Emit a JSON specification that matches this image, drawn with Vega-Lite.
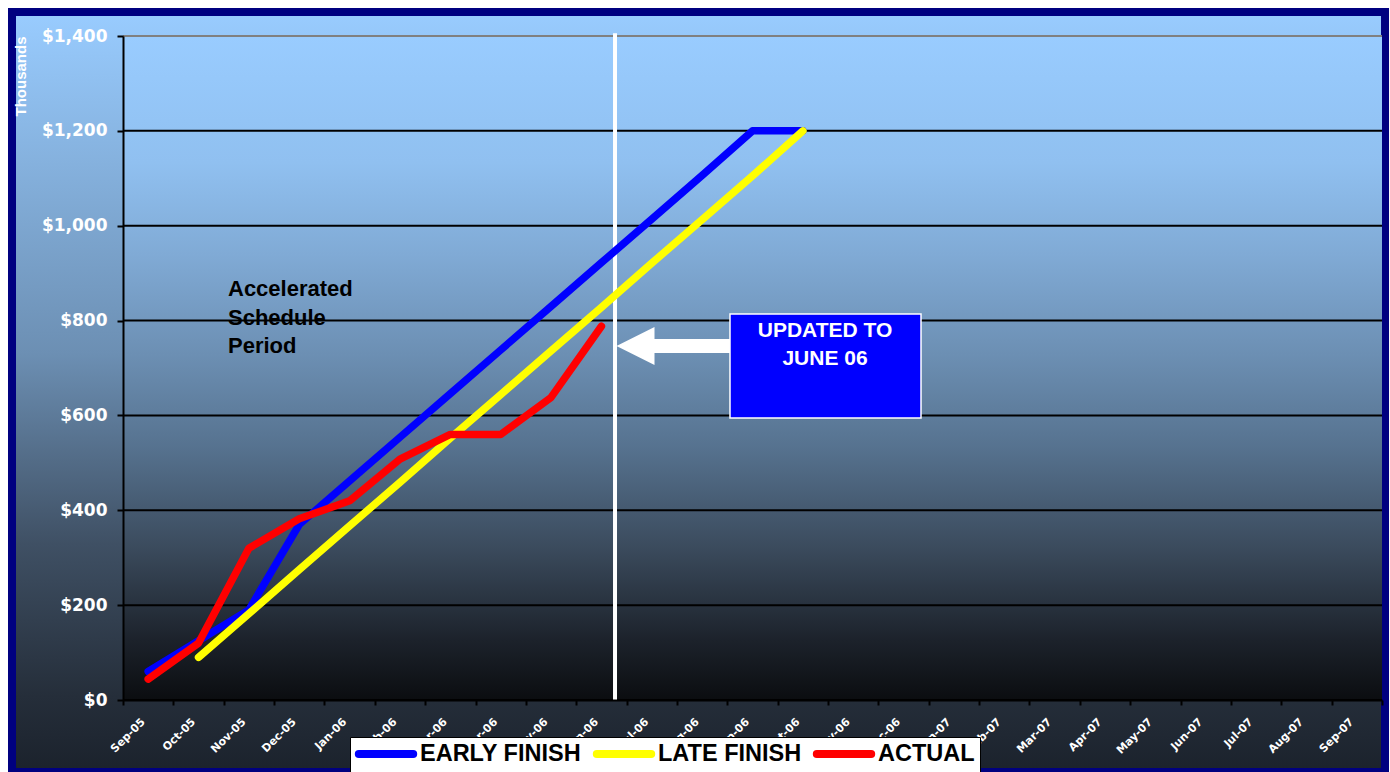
{
  "$schema": "https://vega.github.io/schema/vega-lite/v6.json",
  "width": 1259,
  "height": 664,
  "autosize": {"type": "none"},
  "padding": {"left": 123, "top": 36, "right": 8, "bottom": 72},
  "background": "white",
  "config": {"view": {"stroke": null}},
  "datasets": {
    "series": [
      {"month": "Sep-05", "idx": 0, "series": "EARLY FINISH", "value": 60},
      {"month": "Oct-05", "idx": 1, "series": "EARLY FINISH", "value": 125},
      {"month": "Nov-05", "idx": 2, "series": "EARLY FINISH", "value": 190},
      {"month": "Dec-05", "idx": 3, "series": "EARLY FINISH", "value": 370},
      {"month": "Jan-06", "idx": 4, "series": "EARLY FINISH", "value": 462},
      {"month": "Feb-06", "idx": 5, "series": "EARLY FINISH", "value": 554},
      {"month": "Mar-06", "idx": 6, "series": "EARLY FINISH", "value": 646},
      {"month": "Apr-06", "idx": 7, "series": "EARLY FINISH", "value": 738},
      {"month": "May-06", "idx": 8, "series": "EARLY FINISH", "value": 830},
      {"month": "Jun-06", "idx": 9, "series": "EARLY FINISH", "value": 922},
      {"month": "Jul-06", "idx": 10, "series": "EARLY FINISH", "value": 1014},
      {"month": "Aug-06", "idx": 11, "series": "EARLY FINISH", "value": 1106},
      {"month": "Sep-06", "idx": 12, "series": "EARLY FINISH", "value": 1200},
      {"month": "Oct-06", "idx": 13, "series": "EARLY FINISH", "value": 1200},
      {"month": "Oct-05", "idx": 1, "series": "LATE FINISH", "value": 90},
      {"month": "Nov-05", "idx": 2, "series": "LATE FINISH", "value": 182},
      {"month": "Dec-05", "idx": 3, "series": "LATE FINISH", "value": 275},
      {"month": "Jan-06", "idx": 4, "series": "LATE FINISH", "value": 367},
      {"month": "Feb-06", "idx": 5, "series": "LATE FINISH", "value": 459},
      {"month": "Mar-06", "idx": 6, "series": "LATE FINISH", "value": 552},
      {"month": "Apr-06", "idx": 7, "series": "LATE FINISH", "value": 644},
      {"month": "May-06", "idx": 8, "series": "LATE FINISH", "value": 736},
      {"month": "Jun-06", "idx": 9, "series": "LATE FINISH", "value": 828},
      {"month": "Jul-06", "idx": 10, "series": "LATE FINISH", "value": 921},
      {"month": "Aug-06", "idx": 11, "series": "LATE FINISH", "value": 1013},
      {"month": "Sep-06", "idx": 12, "series": "LATE FINISH", "value": 1105},
      {"month": "Oct-06", "idx": 13, "series": "LATE FINISH", "value": 1200},
      {"month": "Sep-05", "idx": 0, "series": "ACTUAL", "value": 44},
      {"month": "Oct-05", "idx": 1, "series": "ACTUAL", "value": 120},
      {"month": "Nov-05", "idx": 2, "series": "ACTUAL", "value": 320},
      {"month": "Dec-05", "idx": 3, "series": "ACTUAL", "value": 382},
      {"month": "Jan-06", "idx": 4, "series": "ACTUAL", "value": 420},
      {"month": "Feb-06", "idx": 5, "series": "ACTUAL", "value": 508},
      {"month": "Mar-06", "idx": 6, "series": "ACTUAL", "value": 560},
      {"month": "Apr-06", "idx": 7, "series": "ACTUAL", "value": 560},
      {"month": "May-06", "idx": 8, "series": "ACTUAL", "value": 638},
      {"month": "Jun-06", "idx": 9, "series": "ACTUAL", "value": 788}
    ],
    "grid": [{"v": 0}, {"v": 200}, {"v": 400}, {"v": 600}, {"v": 800}, {"v": 1000}, {"v": 1200}, {"v": 1400}]
  },
  "layer": [
    {
      "data": {"values": [{}]},
      "mark": {
        "type": "rect",
        "stroke": "#000080",
        "strokeWidth": 8,
        "fill": {"gradient": "linear", "x1": 0, "y1": 0, "x2": 0, "y2": 1,
          "stops": [
            {"offset": 0, "color": "#99ccff"},
            {"offset": 0.45, "color": "#6c8fb3"},
            {"offset": 0.7, "color": "#3f5064"},
            {"offset": 0.9, "color": "#252e3a"},
            {"offset": 1, "color": "#1b222c"}
          ]}
      },
      "encoding": {
        "x": {"datum": -2.704, "type": "quantitative", "scale": {"domain": [-0.5, 24.5], "nice": false, "zero": false}},
        "x2": {"datum": 24.56},
        "y": {"datum": -151.8, "type": "quantitative", "scale": {"domain": [0, 1400], "nice": false, "zero": true}},
        "y2": {"datum": 1450.6}
      }
    },
    {
      "data": {"values": [{}]},
      "mark": {
        "type": "rect",
        "fill": {"gradient": "linear", "x1": 0, "y1": 0, "x2": 0, "y2": 1,
          "stops": [
            {"offset": 0, "color": "#99ccff"},
            {"offset": 0.19, "color": "#90c0f0"},
            {"offset": 0.33, "color": "#80aad5"},
            {"offset": 0.48, "color": "#6c8fb3"},
            {"offset": 0.62, "color": "#56728f"},
            {"offset": 0.77, "color": "#3b4b5d"},
            {"offset": 0.91, "color": "#1c222b"},
            {"offset": 1, "color": "#0b0d10"}
          ]}
      },
      "encoding": {
        "x": {"datum": -0.5, "type": "quantitative"},
        "x2": {"datum": 24.5},
        "y": {"datum": 0, "type": "quantitative"},
        "y2": {"datum": 1400}
      }
    },
    {
      "data": {"name": "grid"},
      "mark": {"type": "rule", "strokeWidth": 2},
      "encoding": {
        "y": {"field": "v", "type": "quantitative",
          "axis": {
            "values": [0, 200, 400, 600, 800, 1000, 1200, 1400],
            "format": "$,d", "zindex": 1,
            "labelColor": "white", "labelFont": "DejaVu Sans", "labelFontSize": 17, "labelFontWeight": "bold",
            "labelPadding": 10, "tickSize": 6, "tickColor": "black", "tickWidth": 2,
            "domainColor": "black", "domainWidth": 2, "grid": false,
            "title": "Thousands", "titleColor": "white", "titleFont": "Liberation Sans",
            "titleFontSize": 15, "titleFontWeight": "bold", "titleAnchor": "end", "titlePadding": 13
          }},
        "color": {"condition": {"test": "datum.v === 1400", "value": "#808080"}, "value": "black"}
      }
    },
    {
      "data": {"values": [{}]},
      "mark": {"type": "rule", "color": "white", "strokeWidth": 4},
      "encoding": {
        "x": {"datum": 9.27, "type": "quantitative"},
        "y": {"datum": 0, "type": "quantitative"},
        "y2": {"datum": 1406}
      }
    },
    {
      "data": {"name": "series"},
      "mark": {"type": "line", "strokeWidth": 7.5, "strokeCap": "round", "strokeJoin": "round"},
      "encoding": {
        "x": {"field": "idx", "type": "quantitative",
          "scale": {"domain": [-0.5, 24.5], "nice": false, "zero": false},
          "axis": {
            "values": [-0.5, 0.5, 1.5, 2.5, 3.5, 4.5, 5.5, 6.5, 7.5, 8.5, 9.5, 10.5, 11.5, 12.5, 13.5, 14.5, 15.5, 16.5, 17.5, 18.5, 19.5, 20.5, 21.5, 22.5, 23.5, 24.5],
            "labelExpr": "['Sep-05','Oct-05','Nov-05','Dec-05','Jan-06','Feb-06','Mar-06','Apr-06','May-06','Jun-06','Jul-06','Aug-06','Sep-06','Oct-06','Nov-06','Dec-06','Jan-07','Feb-07','Mar-07','Apr-07','May-07','Jun-07','Jul-07','Aug-07','Sep-07'][datum.value + 0.5] || ''",
            "labelAngle": -45, "labelAlign": "right", "labelBaseline": "middle", "zindex": 1,
            "labelOffset": 20, "labelPadding": 15, "labelColor": "white",
            "labelFont": "DejaVu Sans", "labelFontSize": 11, "labelFontWeight": "bold",
            "labelOverlap": false, "labelFlush": false, "labelBound": false,
            "tickSize": 5, "tickColor": "black", "tickWidth": 2,
            "domainColor": "black", "domainWidth": 2, "grid": false, "title": null
          }},
        "y": {"field": "value", "type": "quantitative",
          "scale": {"domain": [0, 1400], "nice": false, "zero": true},
          "axis": {
            "values": [0, 200, 400, 600, 800, 1000, 1200, 1400],
            "format": "$,d", "zindex": 1,
            "labelColor": "white", "labelFont": "DejaVu Sans", "labelFontSize": 17, "labelFontWeight": "bold",
            "labelPadding": 10, "tickSize": 6, "tickColor": "black", "tickWidth": 2,
            "domainColor": "black", "domainWidth": 2, "grid": false,
            "title": "Thousands", "titleColor": "white", "titleFont": "Liberation Sans",
            "titleFontSize": 15, "titleFontWeight": "bold", "titleAnchor": "end", "titlePadding": 13
          }},
        "color": {
          "field": "series", "type": "nominal",
          "scale": {"domain": ["EARLY FINISH", "LATE FINISH", "ACTUAL"], "range": ["#0000ff", "#ffff00", "#ff0000"]},
          "legend": {
            "title": null, "orient": "none", "legendX": 227, "legendY": 701,
            "direction": "horizontal", "fillColor": "white", "strokeColor": "black",
            "padding": 5, "symbolType": "M-3.4,0L3.4,0", "symbolSize": 256,
            "symbolStrokeWidth": 8, "symbolOffset": 19, "labelOffset": 22,
            "labelFont": "Liberation Sans", "labelFontWeight": "bold", "labelFontSize": 23.5,
            "labelColor": "black", "columnPadding": -2, "labelLimit": 400, "zindex": 2,
            "encode": {"symbols": {"update": {"strokeCap": {"value": "round"}}}}
          }
        }
      }
    },
    {
      "data": {"values": [{}]},
      "mark": {"type": "rule", "color": "white", "strokeWidth": 14},
      "encoding": {
        "x": {"datum": 9.965, "type": "quantitative"},
        "x2": {"datum": 11.553},
        "y": {"datum": 746.4, "type": "quantitative"}
      }
    },
    {
      "data": {"values": [{}]},
      "mark": {"type": "point", "shape": "M-1,0L1,-1L1,1Z", "size": 1444, "filled": true, "color": "white", "opacity": 1, "strokeWidth": 0},
      "encoding": {
        "x": {"datum": 9.677, "type": "quantitative"},
        "y": {"datum": 746.4, "type": "quantitative"}
      }
    },
    {
      "data": {"values": [{}]},
      "mark": {"type": "rect", "fill": "#0000ff", "stroke": "white", "strokeWidth": 1.5},
      "encoding": {
        "x": {"datum": 11.553, "type": "quantitative"},
        "x2": {"datum": 15.346},
        "y": {"datum": 594.6, "type": "quantitative"},
        "y2": {"datum": 813.9}
      }
    },
    {
      "data": {"values": [{}]},
      "mark": {"type": "text", "text": ["UPDATED TO", "JUNE 06"], "font": "Liberation Sans", "fontWeight": "bold", "fontSize": 21, "color": "white", "align": "center", "baseline": "alphabetic", "lineHeight": 28},
      "encoding": {
        "x": {"datum": 13.44, "type": "quantitative"},
        "y": {"datum": 765.4, "type": "quantitative"}
      }
    },
    {
      "data": {"values": [{}]},
      "mark": {"type": "text", "text": ["Accelerated", "Schedule", "Period"], "font": "Liberation Sans", "fontWeight": "bold", "fontSize": 22, "color": "black", "align": "left", "baseline": "alphabetic", "lineHeight": 28.5},
      "encoding": {
        "x": {"datum": 1.585, "type": "quantitative"},
        "y": {"datum": 851.8, "type": "quantitative"}
      }
    }
  ]
}
